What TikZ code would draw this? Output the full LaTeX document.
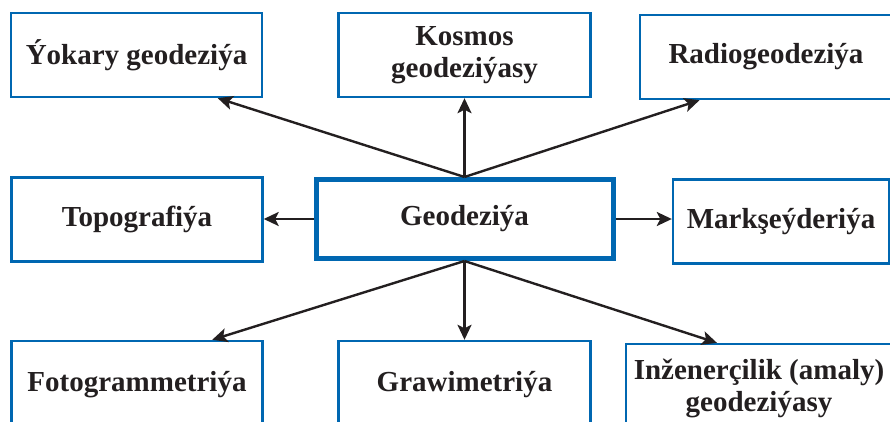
\documentclass[tikz,border=0pt]{standalone}
\usepackage{fontspec}
\setmainfont{Liberation Serif}
\usetikzlibrary{arrows.meta}
\definecolor{boxBlue}{RGB}{0,103,177}
\definecolor{inkGray}{RGB}{35,31,32}

\begin{document}
\begin{tikzpicture}[x=1pt, y=-1pt,
	catBox/.style={draw=boxBlue, line width=2.4pt, fill=white, minimum width=251pt, minimum height=84pt, inner sep=2pt, align=center, text=inkGray, font=\bfseries\fontsize{29}{32}\selectfont},
	mainBox/.style={catBox, line width=5pt, minimum width=297pt, minimum height=79pt},
	branch/.style={-{Stealth[length=15pt, width=14pt, inset=3.5pt]}, line width=2.4pt, inkGray}]
	
	% fix the page and cut the boxes at its edges
	\useasboundingbox (0,0) rectangle (890,422);
	\clip (0,0) rectangle (890,422);
	
	% draw the central box
	\node[mainBox] (geo) at (464.5,219) {Geodeziýa};
	
	% draw the upper row
	\node[catBox] (yok) at (136.5,55) {Ýokary geodeziýa};
	\node[catBox, minimum width=252pt] (kos) at (464.5,55) {Kosmos\\geodeziýasy};
	\node[catBox, minimum width=252pt] (rad) at (766,57) {Radiogeodeziýa};
	
	% draw the middle row
	\node[catBox] (topo) at (137,219.5) {Topografiýa};
	\node[catBox, minimum width=216pt] (mark) at (781,221.5) {Markşeýderiýa};
	
	% draw the lower row
	\node[catBox, minimum height=88pt] (foto) at (137,385) {Fotogrammetriýa};
	\node[catBox, minimum height=88pt, minimum width=252pt] (graw) at (464.5,385) {Grawimetriýa};
	\node[catBox, minimum height=88pt, minimum width=266pt] (inz) at (759,388) {Inženerçilik (amaly)\\geodeziýasy};
	
	% draw arrows to add branches
	\draw[branch] (geo.north) -- (yok.-28);
	\draw[branch] (geo.north) -- (geo.north |- kos.south);
	\draw[branch] (geo.north) -- (rad.-147);
	\draw[branch] (geo.west) -- (geo.west -| topo.east);
	\draw[branch] (geo.east) -- (geo.east -| mark.west);
	\draw[branch] (geo.south) -- (foto.31);
	\draw[branch] (geo.south) -- (geo.south |- graw.north);
	\draw[branch] (geo.south) -- (inz.133);
\end{tikzpicture}
\end{document}
